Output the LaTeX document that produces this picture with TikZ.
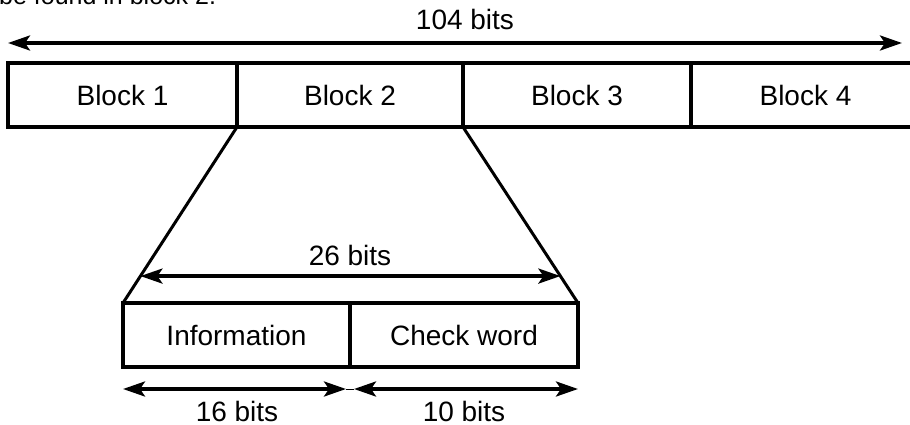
\documentclass[tikz,border=0pt]{standalone}
\usepackage{fontspec}
\setmainfont{Liberation Sans}
\usetikzlibrary{arrows.meta,calc}
\begin{document}
\begin{tikzpicture}[x=1pt,y=-1pt,
  blk/.style={draw,line width=4pt,outer sep=0pt,minimum height=64pt,inner sep=0pt,anchor=north west,font=\fontsize{28}{32}\selectfont},
  dim/.style={line width=3.5pt,{Stealth[length=22pt,width=15pt,inset=5pt]}-{Stealth[length=22pt,width=15pt,inset=5pt]}},
  lbl/.style={font=\fontsize{28}{32}\selectfont,inner sep=0pt},
  slant/.style={line width=3pt}]
\useasboundingbox (0,0) rectangle (910,425);
\node[lbl,anchor=base west,font=\fontsize{25}{30}\selectfont] (cap) at (-1,5) {be found in block 2.};
% top blocks
\node[blk,minimum width=229pt] (b1) at (8,63) {Block 1};
\node[blk,minimum width=226pt] (b2) at (237,63) {Block 2};
\node[blk,minimum width=228pt] (b3) at (463,63) {Block 3};
\node[blk,minimum width=229pt] (b4) at (691,63) {Block 4};
\draw[line width=4pt] (b4.north west) -- ++(240,0) (b4.south west) -- ++(240,0);
% top dimension
\coordinate (tl) at (8,43);
\coordinate (tr) at (902,43);
\draw[dim] (tl) -- (tr);
\node[lbl] (t104) at (465,19) {104 bits};
% lower blocks
\node[blk,minimum width=227pt] (inf) at (123,303) {Information};
\node[blk,minimum width=228pt] (chk) at (350,303) {Check word};
% slanted connectors
\draw[slant] (b2.south west) -- (inf.north west);
\draw[slant] (b2.south east) -- (chk.north east);
% 26 bits
\coordinate (ml) at ($(b2.south west)!0.847!(inf.north west)$);
\coordinate (mr) at ($(b2.south east)!0.847!(chk.north east)$);
\draw[dim] (ml) -- (mr);
\node[lbl] (t26) at (350,255) {26 bits};
% bottom dims
\coordinate (bl) at ($(inf.south west)+(0,22)$);
\coordinate (bm) at ($(inf.south east)+(0,22)$);
\coordinate (br) at ($(chk.south east)+(0,22)$);
\draw[line width=1pt] ($(bm)+(-4,0)$) -- ($(bm)+(4,0)$);
\draw[dim,shorten >=4pt] (bl) -- (bm);
\draw[dim,shorten <=4pt] (bm) -- (br);
\node[lbl] (t16) at (237,411) {16 bits};
\node[lbl] (t10) at (464,411) {10 bits};
\end{tikzpicture}
\end{document}
